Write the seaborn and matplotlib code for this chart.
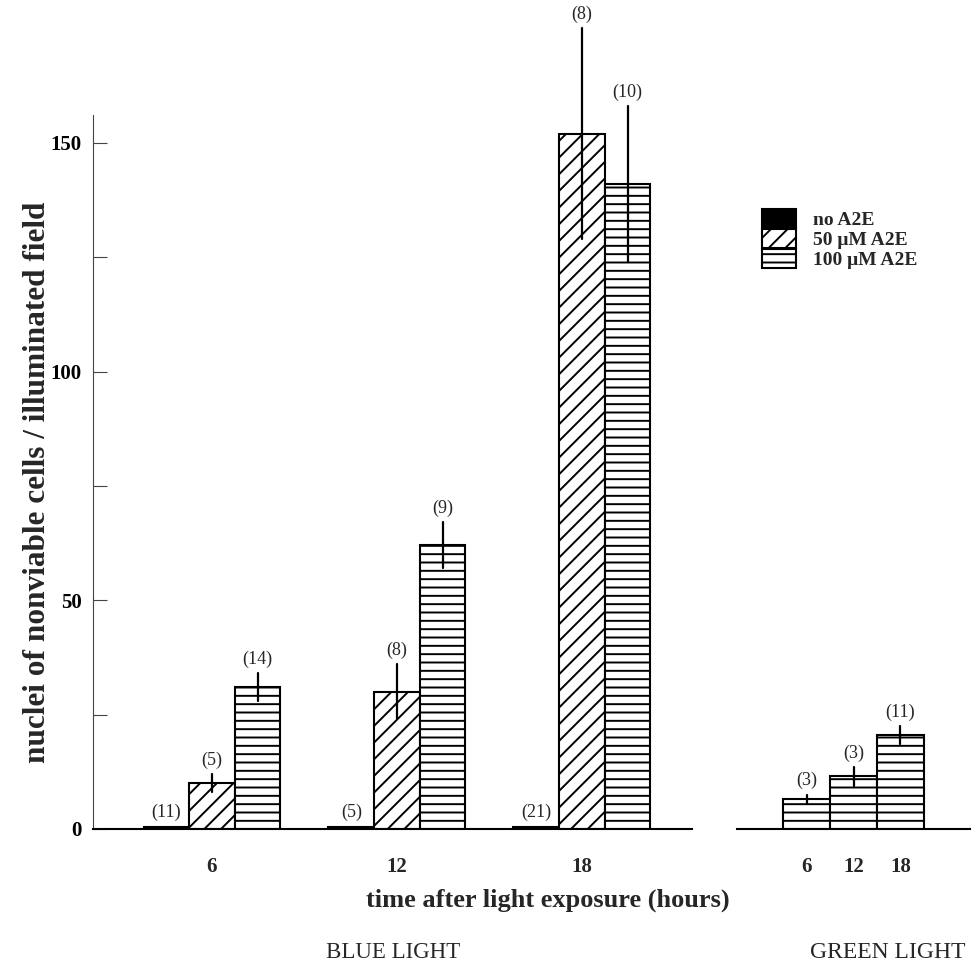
import numpy as np
import pandas as pd
import matplotlib
matplotlib.use('Agg')
import matplotlib.pyplot as plt
import seaborn as sn

# blue light: mean +/- error per exposure time and A2E dose
times = ['6', '12', '18']
doses = ['no A2E', '50 μM A2E', '100 μM A2E']
blue_mean = {'no A2E': [0.5, 0.5, 0.5],
             '50 μM A2E': [10, 30, 152],
             '100 μM A2E': [31, 62, 141]}
blue_err = {'no A2E': [0, 0, 0],
            '50 μM A2E': [2, 6, 23],
            '100 μM A2E': [3, 5, 17]}
blue_n = {'no A2E': [11, 5, 21],
          '50 μM A2E': [5, 8, 8],
          '100 μM A2E': [14, 9, 10]}

# green light: only 100 uM A2E
green_mean = [6.5, 11.5, 20.5]
green_err = [1, 2, 2]
green_n = [3, 3, 11]

hatches = {'no A2E': '', '50 μM A2E': '//', '100 μM A2E': '--'}
colors = {'no A2E': 'black', '50 μM A2E': 'white', '100 μM A2E': 'white'}

if __name__ == '__main__':
    sn.set_style('white')
    plt.rcParams['font.family'] = ['Liberation Serif', 'DejaVu Serif']
    plt.rcParams['hatch.color'] = 'black'
    plt.rcParams['hatch.linewidth'] = 1.4

    # two rows per bar (mean - err, mean + err) so seaborn draws the range
    rows = []
    for d in doses:
        for i, t in enumerate(times):
            for s in (-1, 1):
                rows.append({'time': t, 'dose': d, 'value': blue_mean[d][i] + s * blue_err[d][i]})
    blue = pd.DataFrame(rows)
    rows = []
    for i, t in enumerate(times):
        for s in (-1, 1):
            rows.append({'time': t, 'value': green_mean[i] + s * green_err[i]})
    green = pd.DataFrame(rows)

    fig = plt.figure(figsize=(9.76, 9.76), dpi=100)
    ax = fig.add_axes([93 / 976, 147 / 976, 599 / 976, 823.5 / 976])
    ax2 = fig.add_axes([737 / 976, 147 / 976, 233 / 976, 823.5 / 976])
    ax.patch.set_alpha(0)
    ax2.patch.set_alpha(0)

    sn.barplot(data=blue, x='time', y='value', hue='dose', hue_order=doses, order=times,
               palette=colors, width=0.74, gap=0, errorbar=('pi', 100), capsize=0,
               err_kws={'color': 'black', 'linewidth': 1.6}, edgecolor='black',
               linewidth=1.5, saturation=1, legend=False, ax=ax)
    for d, cont in zip(doses, ax.containers):
        for bar, m, e, n in zip(cont.patches, blue_mean[d], blue_err[d], blue_n[d]):
            bar.set_hatch(hatches[d])
            ax.annotate('(%d)' % n, xy=(bar.get_x() + bar.get_width() / 2, m + e),
                        xytext=(0, 4), textcoords='offset points',
                        ha='center', va='bottom', fontsize=13, annotation_clip=False)
    for line in ax.lines:
        line.set_clip_on(False)

    sn.barplot(data=green, x='time', y='value', order=times, color='white', width=1.0,
               errorbar=('pi', 100), capsize=0, err_kws={'color': 'black', 'linewidth': 1.6},
               edgecolor='black', linewidth=1.5, saturation=1, ax=ax2)
    for bar, m, e, n in zip(ax2.containers[0].patches, green_mean, green_err, green_n):
        bar.set_hatch('--')
        ax2.annotate('(%d)' % n, xy=(bar.get_x() + bar.get_width() / 2, m + e),
                     xytext=(0, 4), textcoords='offset points',
                     ha='center', va='bottom', fontsize=13)

    for a in (ax, ax2):
        a.set_ylim(0, 180)
        a.set_xlabel('')
        a.spines['top'].set_visible(False)
        a.spines['right'].set_visible(False)
        a.spines['bottom'].set_linewidth(1.5)
        a.spines['bottom'].set_color('black')
        a.tick_params(axis='x', length=0, pad=20, labelsize=15)
        for lab in a.get_xticklabels():
            lab.set_fontweight('bold')
    ax.set_xlim(-0.643, 2.595)
    ax2.set_xlim(-1.479, 3.479)

    ax.spines['left'].set_bounds(0, 156)
    ax.spines['left'].set_linewidth(0.8)
    ax.spines['left'].set_color('#444444')
    ax.set_yticks([0, 50, 100, 150])
    ax.set_yticks([25, 75, 125], minor=True)
    ax.tick_params(axis='y', which='both', direction='in', length=10, width=0.8,
                   colors='#444444', labelcolor='black', labelsize=15, pad=8, left=True)
    for lab in ax.get_yticklabels():
        lab.set_fontweight('bold')
    ax.set_ylabel('nuclei of nonviable cells / illuminated field', fontsize=22.5,
                  fontweight='bold', va='center')
    ax.yaxis.set_label_coords(-0.093, 0.421)

    ax2.spines['left'].set_visible(False)
    ax2.set_yticks([])
    ax2.set_ylabel('')

    fig.legend(handles=ax.containers, labels=doses, loc='upper left', frameon=False,
               bbox_to_anchor=(762 / 976, 1 - 209 / 976),
               borderpad=0, borderaxespad=0, labelspacing=0, handlelength=1.75,
               handleheight=1.1, handletextpad=0.85,
               prop={'weight': 'bold', 'size': 14})

    fig.text(548 / 976, 1 - 900 / 976, 'time after light exposure (hours)', fontsize=19,
             fontweight='bold', ha='center', va='center')
    fig.text(393 / 976, 1 - 952 / 976, 'BLUE LIGHT', fontsize=16.5, ha='center', va='center')
    fig.text(888 / 976, 1 - 952 / 976, 'GREEN LIGHT', fontsize=17, ha='center', va='center')

    plt.savefig('out.png', dpi=100)
